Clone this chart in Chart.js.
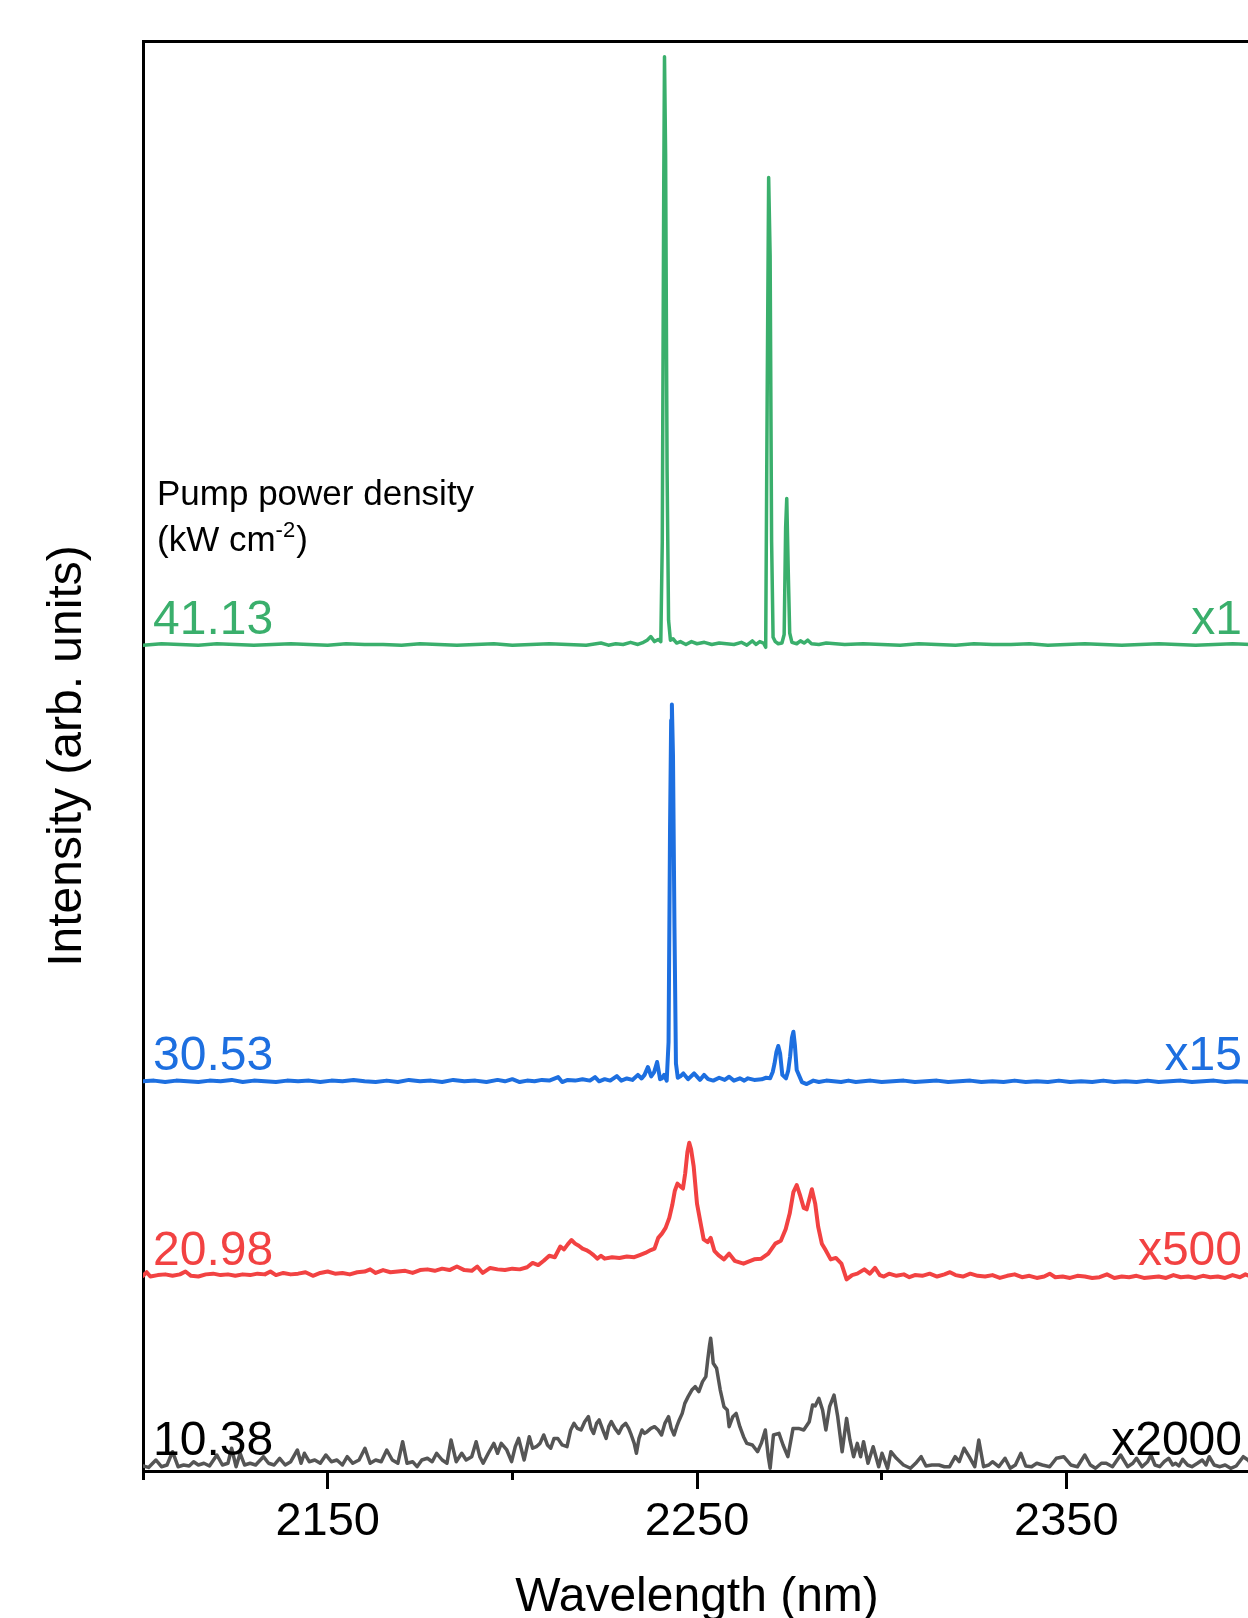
<!DOCTYPE html>
<html>
<head>
<meta charset="utf-8">
<script src="https://cdn.jsdelivr.net/npm/chart.js@4.4.1/dist/chart.umd.min.js"></script>
<style>
  html, body { margin: 0; padding: 0; overflow: hidden; background: #fff; }
  canvas { display: block; }
</style>
</head>
<body>
<canvas id="spectra" width="1270" height="1618" style="width:1270px;height:1618px"></canvas>
<script>
// spectra, already stacked (arb. units, axis 0-100)
const greenNm = [2100,2105,2110,2115,2120,2125,2130,2135,2140,2145,2150,2155,2160,2165,2170,2175,2180,2185,2190,2195,2200,2205,2210,2215,2220,2224,2226,2228,2230,2232,2234,2235.5,2236.5,2237.5,2238.5,2239.5,2240.2,2240.6,2241.0,2241.2,2241.5,2241.9,2242.3,2242.8,2243.5,2244.5,2245.5,2247,2248.5,2250,2252,2254,2256,2258,2260,2262,2263.5,2265,2266,2267,2268,2268.6,2269.0,2269.4,2269.8,2270.2,2270.6,2271.2,2272,2273,2273.6,2274.0,2274.3,2274.7,2275.1,2275.7,2277,2278,2279,2280,2281,2283,2285,2290,2295,2300,2305,2310,2315,2320,2325,2330,2335,2340,2345,2350,2355,2360,2365,2370,2375,2380,2385,2390,2395,2400];
const greenInt = [57.75,57.85,57.8,57.75,57.85,57.8,57.75,57.8,57.85,57.8,57.75,57.85,57.8,57.8,57.75,57.85,57.8,57.75,57.8,57.85,57.75,57.8,57.85,57.8,57.75,57.9,57.75,57.85,57.8,57.95,57.8,57.95,58.1,58.35,58.0,58.15,58.0,65,90,98.9,92,70,59.5,58.1,58.2,57.9,58.0,57.8,58.0,57.85,57.95,57.8,57.9,57.85,57.8,57.95,57.75,58.05,57.8,58.0,57.9,57.6,75,90.45,85,65,58.3,58.0,57.85,57.9,58.5,66,68.0,63,58.6,57.95,57.85,58.05,57.9,58.1,57.85,57.8,57.9,57.8,57.85,57.8,57.75,57.85,57.8,57.75,57.85,57.8,57.8,57.85,57.75,57.8,57.85,57.8,57.75,57.8,57.85,57.8,57.75,57.8,57.85,57.8];

const blueNm = [2100,2103,2106,2109,2112,2115,2118,2121,2124,2127,2130,2133,2136,2139,2142,2145,2148,2151,2154,2157,2160,2163,2166,2169,2172,2175,2178,2181,2184,2187,2190,2193,2196,2198,2200,2202,2204,2206,2208,2210,2212.4,2213.5,2215,2217,2219,2221,2222.4,2223.5,2225,2226.5,2228.3,2229.5,2231,2232.5,2234,2235,2235.8,2236.7,2237.6,2238.4,2239.2,2240.0,2240.5,2241.1,2241.8,2242.3,2242.7,2243.0,2243.2,2243.5,2243.9,2244.3,2244.8,2245.5,2246.3,2247.6,2249.2,2250.8,2251.9,2253,2254.4,2256,2257.5,2258.7,2260,2261.6,2262.8,2263.8,2265.5,2267.5,2268.7,2269.8,2270.5,2271.0,2271.5,2272.0,2272.5,2273.1,2274.1,2274.7,2275.2,2275.7,2276.1,2276.5,2277.0,2278.4,2279.7,2281.5,2283,2285,2287,2289,2291,2293,2295,2297,2300,2303,2306,2309,2312,2315,2318,2321,2324,2327,2330,2333,2336,2339,2342,2345,2348,2351,2354,2357,2360,2363,2366,2369,2372,2375,2378,2381,2384,2387,2390,2393,2396,2400];
const blueInt = [27.25,27.3,27.2,27.3,27.25,27.2,27.3,27.25,27.35,27.2,27.3,27.25,27.2,27.3,27.25,27.3,27.2,27.3,27.25,27.35,27.25,27.2,27.3,27.2,27.35,27.25,27.3,27.2,27.35,27.25,27.3,27.2,27.35,27.25,27.4,27.2,27.3,27.25,27.35,27.3,27.55,27.2,27.35,27.3,27.4,27.3,27.55,27.25,27.4,27.3,27.62,27.3,27.45,27.35,27.7,27.45,27.7,28.25,27.6,27.9,28.6,27.4,27.45,27.7,27.3,30,45,52.5,53.6,50,38,28.5,27.5,27.6,27.8,27.4,27.8,27.35,27.7,27.4,27.3,27.5,27.35,27.57,27.3,27.46,27.3,27.46,27.35,27.39,27.5,27.46,27.9,28.5,29.3,29.72,29.2,27.7,27.46,28.0,28.97,30.3,30.72,29.8,28.04,27.2,27.06,27.3,27.2,27.3,27.25,27.2,27.3,27.2,27.25,27.3,27.2,27.25,27.3,27.2,27.25,27.3,27.2,27.25,27.3,27.2,27.25,27.2,27.3,27.2,27.25,27.2,27.3,27.2,27.25,27.2,27.3,27.2,27.25,27.2,27.3,27.2,27.25,27.3,27.2,27.25,27.3,27.2,27.25,27.2];

const redNm = [2100,2101,2102,2104,2106,2108,2110,2111.5,2113,2115,2117,2119,2121,2123,2125,2127,2129,2131,2133,2134.5,2136,2138,2140,2142,2144,2146,2148,2150,2152,2154,2156,2158,2160,2161.5,2163,2165,2167,2169,2171,2173,2175,2177,2179,2181,2183,2185,2187,2189,2190.5,2192,2194,2196,2198,2200,2202,2204,2205.5,2207,2208.5,2210,2211.5,2213,2214,2215,2216,2217,2218,2219,2220,2221,2222,2223,2224,2225,2227,2229,2231,2233,2234.5,2236,2237.5,2238.5,2239.5,2240.5,2241.5,2242.5,2243.3,2244,2244.7,2245.5,2246.2,2246.8,2247.4,2247.9,2248.4,2249.1,2250.0,2251.0,2251.8,2252.9,2253.7,2254.7,2255.8,2257.3,2258.7,2260.2,2262.6,2263.6,2265.5,2267.4,2269.3,2271.2,2272.7,2274.0,2275.1,2276.1,2277.0,2278.0,2278.9,2279.7,2280.4,2281.1,2282.0,2282.8,2283.8,2284.7,2286.2,2287.6,2289.1,2290.5,2292,2293.4,2295.3,2296.8,2298.2,2299.5,2300.6,2302,2304,2306,2307.5,2309,2311,2313,2315,2317,2318.5,2320,2322,2324,2326,2328,2330,2332,2334,2336,2338,2340,2342,2344,2345.5,2347,2349,2351,2353,2355,2357,2359,2361,2363,2365,2367,2369,2371,2373,2375,2377,2379,2381,2383,2385,2387,2389,2391,2393,2395,2397,2398.5,2400];
const redInt = [13.65,13.9,13.6,13.7,13.75,13.65,13.75,13.95,13.65,13.6,13.75,13.8,13.7,13.75,13.65,13.75,13.7,13.8,13.75,13.95,13.7,13.85,13.75,13.8,13.9,13.65,13.85,13.95,13.8,13.85,13.75,13.9,13.95,14.1,13.85,14.05,13.9,13.95,14.0,13.85,14.05,14.1,14.0,14.15,14.05,14.3,14.05,14.0,14.3,13.85,14.2,14.1,14.05,14.15,14.1,14.25,14.55,14.4,14.7,15.05,14.95,15.7,15.5,15.85,16.15,15.9,15.75,15.55,15.45,15.3,15.1,14.85,15.05,14.85,14.95,14.9,15.0,14.95,15.1,15.25,15.45,15.55,16.3,16.6,17.0,17.7,18.6,19.6,20.1,19.9,19.75,20.8,22.3,22.95,22.5,21.3,18.7,17.3,16.2,16.0,16.3,15.4,15.1,14.8,15.2,14.7,14.5,14.6,14.8,14.85,15.2,15.9,16.1,16.9,18.0,19.5,20.0,19.2,18.4,18.3,19.0,19.7,18.7,17.1,15.9,15.5,14.8,14.9,14.5,13.4,13.7,13.8,14.1,13.8,14.2,13.7,13.6,13.8,13.65,13.75,13.55,13.7,13.65,13.8,13.6,13.75,13.9,13.7,13.6,13.8,13.65,13.6,13.7,13.5,13.65,13.75,13.55,13.65,13.5,13.6,13.8,13.55,13.6,13.5,13.65,13.6,13.5,13.55,13.75,13.5,13.6,13.55,13.65,13.5,13.55,13.6,13.5,13.7,13.55,13.6,13.5,13.65,13.55,13.6,13.5,13.7,13.55,13.75,13.6];

const grayNm = [2100,2101.5,2103.5,2105,2106.5,2108,2109.5,2111,2112.5,2113.7,2115,2116.5,2118,2120,2121.5,2123,2124,2125.2,2126.3,2127.5,2129,2130.5,2132.6,2134,2135.5,2137,2138.5,2140,2141.8,2142.8,2143.7,2145,2146.5,2148,2149.5,2151,2152.5,2154,2155.3,2156.8,2158.5,2160.1,2161.5,2163,2164.5,2166,2167.5,2169,2170.3,2171.5,2173,2174.2,2175.5,2177,2178.3,2179.5,2181,2182.3,2183.4,2184.8,2186.3,2187.5,2189,2190.2,2191.2,2192.1,2193.5,2195,2196,2197,2198.5,2199.8,2200.8,2201.7,2203.2,2204.6,2205.5,2206.5,2207.5,2208.5,2209.5,2210.4,2211.3,2212.3,2213.5,2214.8,2215.8,2216.7,2217.6,2218.6,2219.6,2220.6,2221.3,2222,2222.8,2223.5,2224.5,2225.4,2226.1,2226.8,2227.8,2228.8,2229.7,2230.7,2231.5,2232.2,2233,2233.6,2234.3,2235.1,2235.8,2236.5,2237.5,2238.5,2239.5,2240.4,2241.3,2242.3,2243,2243.8,2244.5,2245.2,2246,2246.7,2247.6,2248.6,2249.5,2250.5,2251.5,2252.4,2252.9,2253.4,2253.7,2254.0,2254.4,2255.3,2256.3,2257.3,2258.2,2258.7,2259.7,2260.6,2261.6,2262.6,2263.5,2265,2266.4,2267.4,2268.5,2269.3,2269.8,2270.7,2272.2,2273.3,2274.6,2276,2277.5,2278.9,2280.4,2281.3,2282,2283,2284,2284.9,2285.9,2287.1,2288.1,2289.3,2290.5,2291.4,2292.4,2293.4,2294.3,2295.1,2296.3,2297.7,2299.2,2300.1,2301.6,2302.5,2304,2305.9,2307.8,2309.2,2310.7,2312,2313.6,2315.5,2317,2318.4,2319.9,2321,2322.3,2323.7,2325.2,2326.3,2327.6,2329,2330,2331.7,2333.4,2334.8,2336.2,2337.7,2339,2340.6,2342,2343.5,2345.5,2347.3,2349.3,2351.2,2353,2355,2356.5,2357.9,2359.5,2360.8,2362.5,2364.7,2366.6,2368,2369,2370.5,2372,2372.9,2374,2375.3,2376.5,2377.7,2378.8,2379.6,2380.5,2381.5,2382.8,2384,2385.5,2386.8,2387.8,2388.7,2390,2391.6,2393,2394.5,2396,2397.9,2399.2,2400];
const grayInt = [0.35,0.25,0.77,0.3,0.42,1.35,0.3,0.42,0.35,0.65,0.42,0.54,0.35,1.12,0.42,0.54,1.59,0.3,1.24,0.42,0.54,0.42,1.0,0.54,0.42,0.89,0.42,0.65,1.47,0.54,1.24,0.65,0.77,0.54,1.12,0.65,0.77,0.42,1.0,0.54,0.77,1.59,0.54,0.77,0.65,1.47,0.77,0.54,2.05,0.54,0.65,0.3,0.77,0.89,0.65,1.24,0.77,0.54,2.17,0.65,1.24,0.77,1.0,2.05,1.0,0.54,1.24,1.93,1.24,1.93,1.47,0.65,1.7,2.28,0.77,2.4,1.59,1.7,1.93,2.52,1.82,1.59,2.28,2.28,1.82,1.7,2.87,3.33,2.98,2.87,3.45,3.8,2.98,2.63,3.33,3.57,2.87,2.28,3.1,3.45,2.98,2.63,3.1,3.33,2.98,2.52,1.93,1.24,2.28,2.87,2.63,2.75,2.98,3.1,2.87,2.52,3.33,3.8,3.0,2.52,3.1,3.57,4.03,4.73,5.2,5.66,5.9,5.55,6.25,6.6,7.76,8.8,9.28,8.6,7.53,7.18,5.66,4.5,4.27,3.1,3.8,4.03,3.1,2.4,1.93,1.82,1.35,1.93,2.87,1.0,0.19,2.52,2.63,1.82,1.0,2.98,2.98,2.87,3.45,4.62,4.55,5.08,4.27,2.87,4.5,5.31,3.8,1.35,3.68,2.17,1.0,1.93,1.0,2.05,0.54,1.7,0.3,1.24,0.19,1.35,0.89,0.42,0.19,0.54,1.0,0.35,0.42,0.42,0.3,0.3,1.0,0.65,1.59,1.0,0.3,2.17,0.3,0.42,0.65,0.3,0.89,0.19,0.42,1.24,0.35,0.3,0.54,0.42,0.3,0.89,1.0,0.42,0.3,1.12,0.42,0.19,0.54,0.54,0.3,1.12,0.3,0.54,0.89,0.3,0.65,1.12,0.42,0.3,0.65,0.89,0.42,0.54,0.35,0.82,0.42,0.3,0.54,0.77,0.42,1.0,0.42,0.3,0.42,0.19,0.35,1.0,0.77,0.5];

const powerLabels = ["41.13", "30.53", "20.98", "10.38"];
const gainLabels = ["x1", "x15", "x500", "x2000"];
const traceColors = ["#3aaf6c", "#1d6fe0", "#f24242", "#555555"];
const labelColors = ["#3aaf6c", "#1d6fe0", "#f24242", "#000000"];

const FONT = '"Liberation Sans", Arial, sans-serif';

function toPoints(xs, ys) {
  return xs.map((x, i) => ({ x: x, y: ys[i] }));
}

const traces = [
  toPoints(greenNm, greenInt),
  toPoints(blueNm, blueInt),
  toPoints(redNm, redInt),
  toPoints(grayNm, grayInt),
];
const widths = [3.5, 4, 4, 3.5];

const datasets = traces.map((pts, i) => ({
  label: powerLabels[i],
  data: pts,
  borderColor: traceColors[i],
  borderWidth: widths[i],
  borderJoinStyle: "round",
  borderCapStyle: "round",
  pointRadius: 0,
  tension: 0,
  xAxisID: "x",
  yAxisID: "y",
}));

// texte des courbes : puissance à gauche, facteur à droite
const traceLabels = {
  id: "traceLabels",
  afterDatasetsDraw(chart) {
    const { ctx, chartArea, scales } = chart;
    ctx.save();
    ctx.textBaseline = "alphabetic";
    ctx.font = "48px " + FONT;
    let topY = 0;
    traces.forEach((pts, i) => {
      const y = scales.y.getPixelForValue(pts[0].y) - 11;
      if (i === 0) topY = y;
      ctx.fillStyle = labelColors[i];
      ctx.textAlign = "left";
      ctx.fillText(powerLabels[i], chartArea.left + 10, y);
      ctx.textAlign = "right";
      ctx.fillText(gainLabels[i], chartArea.right - 9, y);
    });

    // Pump power density (kW cm-2)
    const x0 = chartArea.left + 14;
    ctx.fillStyle = "#000";
    ctx.textAlign = "left";
    ctx.font = "35px " + FONT;
    ctx.fillText("Pump power density", x0, topY - 129);
    const part = "(kW cm";
    ctx.fillText(part, x0, topY - 83);
    let x1 = x0 + ctx.measureText(part).width;
    ctx.font = "22px " + FONT;
    ctx.fillText("-2", x1, topY - 97);
    x1 += ctx.measureText("-2").width;
    ctx.font = "35px " + FONT;
    ctx.fillText(")", x1 + 1, topY - 83);
    ctx.restore();
  },
};

const ctx = document.getElementById("spectra").getContext("2d");

const myChart = new Chart(ctx, {
  type: "line",
  data: { datasets: datasets },
  plugins: [traceLabels],
  options: {
    responsive: false,
    animation: false,
    devicePixelRatio: 1,
    layout: { padding: { left: 0, right: 19, top: 41, bottom: 0 } },
    plugins: { legend: { display: false }, tooltip: { enabled: false } },
    scales: {
      x: {
        type: "linear",
        position: "bottom",
        min: 2100,
        max: 2400,
        afterFit: (s) => { s.height = 147; },
        ticks: {
          stepSize: 50,
          autoSkip: false,
          maxRotation: 0,
          padding: 5,
          color: "#000",
          font: { family: FONT, size: 47 },
          callback: (v) => (v % 100 === 50 ? String(v) : ""),
        },
        grid: {
          drawOnChartArea: false,
          tickLength: 18,
          tickWidth: 3,
          tickColor: (c) => (c.tick && c.tick.value % 100 === 0 ? "rgba(0,0,0,0)" : "#000"),
        },
        border: { display: true, color: "#000", width: 3 },
        title: {
          display: true,
          text: "Wavelength (nm)",
          color: "#000",
          font: { family: FONT, size: 48 },
          padding: { top: 0, bottom: -8.6 },
        },
      },
      xMinor: {
        type: "linear",
        position: { y: 0 },
        min: 2100,
        max: 2400,
        ticks: { display: false, stepSize: 100 },
        grid: { drawOnChartArea: false, tickLength: 9, tickWidth: 3, tickColor: "#000" },
        border: { display: false },
      },
      xTop: {
        type: "linear",
        position: "top",
        min: 2100,
        max: 2400,
        afterFit: (s) => { s.height = 0; },
        ticks: { display: false },
        grid: { display: false, drawTicks: false },
        border: { display: true, color: "#000", width: 3 },
      },
      y: {
        type: "linear",
        position: "left",
        min: 0,
        max: 100,
        afterFit: (s) => { s.width = 143; },
        ticks: { display: false },
        grid: { display: false, drawTicks: false },
        border: { display: true, color: "#000", width: 3 },
        title: {
          display: true,
          text: "Intensity (arb. units)",
          color: "#000",
          font: { family: FONT, size: 48 },
          padding: { top: 38.5, bottom: 0 },
        },
      },
    },
  },
});
</script>
</body>
</html>
